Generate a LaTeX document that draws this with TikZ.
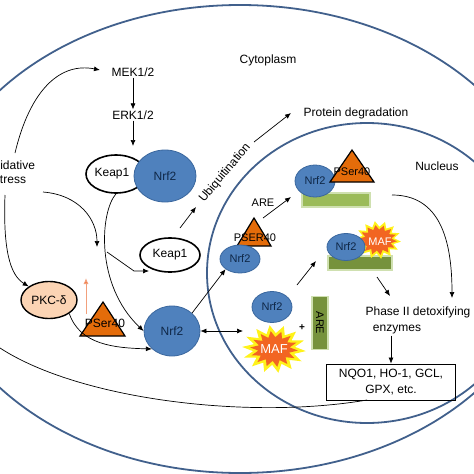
\documentclass[tikz,border=0pt]{standalone}
\usepackage{fontspec}
\setmainfont{Liberation Sans}
\usetikzlibrary{arrows.meta,shapes.geometric}
\definecolor{membrane}{HTML}{41608C}
\definecolor{nrfblue}{HTML}{4F81BD}
\definecolor{nrfedge}{HTML}{3A679E}
\definecolor{nrftext}{HTML}{0F2747}
\definecolor{tri}{HTML}{E46C0A}
\definecolor{pkc}{HTML}{FBD4B4}
\definecolor{greenlight}{HTML}{9BBB59}
\definecolor{greendark}{HTML}{76923C}
\definecolor{greenglow}{HTML}{CFE0B0}
\definecolor{maforange}{HTML}{F26522}
\definecolor{mafyellow}{HTML}{FFF21A}
\definecolor{salmon}{HTML}{F2A07C}
\newcommand{\mafstar}[6]{%
  \fill[#5] plot[samples at={0,...,27}, variable=\k]
    ({#1+(mod(\k,2)==0?1:#6)*#3*cos(\k*360/28+5)}, {#2+(mod(\k,2)==0?1:#6)*#4*sin(\k*360/28+5)}) -- cycle;}
\begin{document}
\begin{tikzpicture}[x=1pt,y=-1pt,
  font=\fontsize{12}{14}\selectfont,
  arr/.style={-{Latex[length=6pt,width=5pt]}, line width=0.7pt},
  nrf/.style={ellipse, fill=nrfblue, draw=nrfedge, line width=0.8pt, text=nrftext, inner sep=0pt},
  keap/.style={ellipse, fill=white, draw=black, line width=1.6pt, inner sep=0pt},
  tribox/.style={fill=tri, draw=black, line width=1.2pt, line join=miter},
  lbl/.style={inner sep=1pt}]
\useasboundingbox (0,0) rectangle (474,474);
\clip (0,0) rectangle (474,474);
% membranes
\draw[membrane, line width=1.8pt] (240,239) ellipse [x radius=311pt, y radius=234pt];
\draw[membrane, line width=1.8pt] (367,273) ellipse [x radius=160pt, y radius=150pt];
% labels
\node[lbl] (cyto) at (268,60) {Cytoplasm};
\node[lbl] (nucl) at (437,166) {Nucleus};
\node[lbl, align=center] (ox) at (10,172) {Oxidative\\stress};
\node[lbl] (mek) at (133,72) {MEK1/2};
\node[lbl] (erk) at (133,115) {ERK1/2};
\node[lbl] (pdeg) at (356,113) {Protein degradation};
\node[lbl, rotate=50] (ubiq) at (225,173) {Ubiquitination};
% Keap1-Nrf2 complex
\node[keap, minimum width=60pt, minimum height=38pt] (keapA) at (116,174) {\hspace*{-8pt}Keap1};
\node[nrf, minimum width=62pt, minimum height=52pt] (nrfA) at (165,176) {Nrf2};
\node[keap, minimum width=60pt, minimum height=34pt] (keapB) at (170,255) {Keap1};
% PKC
\node[ellipse, fill=pkc, draw=black, line width=1.4pt, minimum width=56pt, minimum height=37pt, inner sep=0pt] (pkc) at (49,300) {PKC-δ};
% lower-left triangle
\draw[tribox] (103,302) -- (125,336) -- (80,336) -- cycle;
\node[lbl] (ps1) at (105,323) {PSer40};
\node[nrf, minimum width=56pt, minimum height=50pt] (nrfC) at (172,331) {Nrf2};
% middle Nrf2 + PSER40
\draw[tribox] (254,218) -- (271,246) -- (237,246) -- cycle;
\node[nrf, minimum width=40pt, minimum height=28pt, font=\fontsize{11}{13}\selectfont] (nrfB) at (240,259) {Nrf2};
\node[lbl, font=\fontsize{11}{13}\selectfont] (ps2) at (255,238) {PSER40};
\node[lbl, font=\fontsize{11}{13}\selectfont] (are1) at (263,203) {ARE};
% upper nucleus complex
\draw[fill=greenlight, draw=greenglow, line width=1.2pt] (302,193) rectangle (370,207);
\node[nrf, minimum width=40pt, minimum height=32pt, font=\fontsize{11}{13}\selectfont] (nrfD) at (315,181) {Nrf2};
\draw[tribox] (352,150) -- (374,182) -- (330,182) -- cycle;
\node[lbl, font=\fontsize{11}{13}\selectfont] (ps3) at (352,172) {PSer40};
% middle-right complex
\draw[fill=greendark, draw=greenglow, line width=1.2pt] (328,256) rectangle (392,270);
\mafstar{378}{240}{23}{19}{mafyellow}{0.7}
\mafstar{378}{240}{19}{15}{maforange}{0.7}
\node[nrf, minimum width=38pt, minimum height=27pt, font=\fontsize{11}{13}\selectfont] (nrfE) at (346,247) {Nrf2};
\node[lbl, text=white, font=\fontsize{11}{13}\selectfont] (mafA) at (380,242) {MAF};
% lower nucleus
\node[nrf, minimum width=40pt, minimum height=31pt, font=\fontsize{11}{13}\selectfont] (nrfF) at (272,307) {Nrf2};
\mafstar{274}{349}{32}{24}{mafyellow}{0.66}
\mafstar{274}{349}{24}{18}{maforange}{0.66}
\node[lbl, text=white, font=\fontsize{13}{15}\selectfont] (mafB) at (274,349) {MAF};
\node[lbl, font=\bfseries] (plus) at (302,328) {+};
\node[fill=greendark, draw=greenglow, line width=1.2pt, minimum width=53pt, minimum height=16pt, inner sep=0pt, rotate=-90, font=\fontsize{11}{13}\selectfont] (are2) at (320,323) {ARE};
% enzymes
\node[lbl] (ph2) at (418,312) {Phase II detoxifying};
\node[lbl] (enz) at (397,330) {enzymes};
\node[draw=black, line width=0.8pt, minimum width=129pt, minimum height=36pt, align=center, inner sep=2pt, font=\fontsize{12}{16}\selectfont] (box) at (391,382) {NQO1, HO-1, GCL,\\GPX, etc.};
% coordinates
\coordinate (oxA) at (15,153);
\coordinate (mekIn) at (100,70);
\coordinate (cplxTop) at (133,146);
\coordinate (oxB) at (43,192);
\coordinate (downTip) at (97,247);
\coordinate (oxC) at (5,195);
\coordinate (kbA) at (107,252);
\coordinate (kbB) at (134,271);
\coordinate (kbTip) at (149,271);
\coordinate (ubA) at (180,228);
\coordinate (ubB) at (196,207);
\coordinate (pdA) at (254,142);
\coordinate (pdB) at (291,113);
\coordinate (orA) at (86,314);
\coordinate (orB) at (86,278);
\coordinate (areA) at (263,218);
\coordinate (areB) at (291,197);
\coordinate (nfA) at (297,285);
\coordinate (nfB) at (316,261);
\coordinate (phA) at (377,277);
\coordinate (phB) at (390,296);
\coordinate (loopA) at (392,195);
\coordinate (loopB) at (452,298);
\coordinate (mafL) at (243,331);
\coordinate (fbEnd) at (0,348);
\coordinate (boxOut) at (367,400);
% connectors
\draw[arr] (oxA) .. controls (30,90) and (60,62) .. (mekIn);
\draw[arr] (mek) -- (erk);
\draw[arr] (erk) -- (cplxTop);
\draw[arr] (oxB) .. controls (80,195) and (97,220) .. (downTip);
\draw[arr] (keapA.south) .. controls (100,212) and (95,285) .. (nrfC.west);
\draw[arr] (oxC) .. controls (3,250) and (10,275) .. (pkc.north west);
\draw[arr] (kbA) -- (kbB) -- (kbTip);
\draw[arr] (ubA) -- (ubB);
\draw[arr] (pdA) -- (pdB);
\draw[line width=1pt, salmon, -{Latex[length=6pt,width=5pt,fill=maforange]}] (orA) -- (orB);
\draw[arr] (pkc.south east) .. controls (80,345) and (115,348) .. (nrfC.south west);
\draw[arr] (nrfC.north east) -- (nrfB.south west);
\draw[line width=0.7pt, {Latex[length=6pt,width=5pt]}-{Latex[length=6pt,width=5pt]}] (nrfC.east) -- (mafL);
\draw[arr] (areA) -- (areB);
\draw[arr] (nfA) -- (nfB);
\draw[arr] (phA) -- (phB);
\draw[arr] (loopA) .. controls (440,195) and (452,240) .. (loopB);
\draw[arr] (enz.south -| box.north) -- (box.north);
\draw[line width=0.7pt] (boxOut) .. controls (250,420) and (80,400) .. (fbEnd);
\end{tikzpicture}
\end{document}
